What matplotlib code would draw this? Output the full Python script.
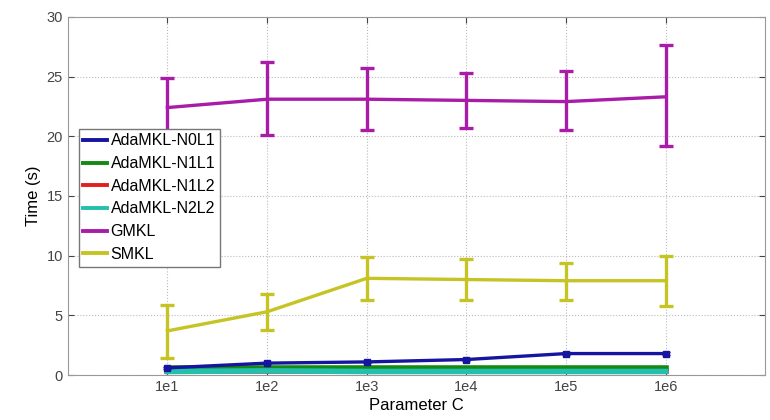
import matplotlib.pyplot as plt
from matplotlib.lines import Line2D

plt.rcParams["font.family"] = ["Liberation Sans", "DejaVu Sans"]

c_labels = ["1e1", "1e2", "1e3", "1e4", "1e5", "1e6"]
positions = [1, 2, 3, 4, 5, 6]

n0l1 = [0.6, 1.0, 1.1, 1.3, 1.8, 1.8]
n0l1_err = [0.1, 0.1, 0.1, 0.1, 0.15, 0.1]
n1l1 = [0.6, 0.6, 0.6, 0.6, 0.6, 0.6]
n1l2 = [0.3, 0.3, 0.3, 0.3, 0.3, 0.3]
n2l2 = [0.3, 0.35, 0.3, 0.3, 0.3, 0.3]
gmkl = [22.4, 23.1, 23.1, 23.0, 22.9, 23.3]
gmkl_lo = [19.9, 20.1, 20.5, 20.7, 20.5, 19.2]
gmkl_hi = [24.9, 26.2, 25.7, 25.3, 25.5, 27.6]
smkl = [3.7, 5.3, 8.1, 8.0, 7.9, 7.9]
smkl_lo = [1.4, 3.8, 6.3, 6.3, 6.3, 5.8]
smkl_hi = [5.9, 6.8, 9.9, 9.7, 9.4, 10.0]

names = ["AdaMKL-N0L1", "AdaMKL-N1L1", "AdaMKL-N1L2", "AdaMKL-N2L2", "GMKL", "SMKL"]
colors = ["#1515a0", "#138a13", "#e02020", "#25bfae", "#a81ca8", "#c6c424"]

fig = plt.figure(figsize=(7.7, 4.2), dpi=100)
ax = fig.add_axes([0.088, 0.107, 0.906, 0.853])

ax.errorbar(positions, n0l1, yerr=n0l1_err, color=colors[0], lw=2.4,
            marker="s", ms=4, capsize=3, elinewidth=2, zorder=6)
ax.plot(positions, n1l1, color=colors[1], lw=4, zorder=5)
ax.plot(positions, n1l2, color=colors[2], lw=4, zorder=4)
ax.plot(positions, n2l2, color=colors[3], lw=4, zorder=5)

g_err = [[m - lo for m, lo in zip(gmkl, gmkl_lo)], [hi - m for m, hi in zip(gmkl, gmkl_hi)]]
ax.errorbar(positions, gmkl, yerr=g_err, color=colors[4], lw=2.4,
            capsize=5, capthick=2.4, elinewidth=2.4, zorder=3)
s_err = [[m - lo for m, lo in zip(smkl, smkl_lo)], [hi - m for m, hi in zip(smkl, smkl_hi)]]
ax.errorbar(positions, smkl, yerr=s_err, color=colors[5], lw=2.4,
            capsize=5, capthick=2.4, elinewidth=2.4, zorder=3)

ax.set_xlim(0, 7)
ax.set_ylim(0, 30)
ax.set_xticks(positions)
ax.set_xticklabels(c_labels)
ax.set_yticks([0, 5, 10, 15, 20, 25, 30])
ax.tick_params(direction="in", top=True, right=True, labelsize=10.5, colors="#444444", length=4)
ax.grid(True, linestyle=":", color="#bbbbbb", lw=0.8)
for s in ax.spines.values():
    s.set_color("#999999")

ax.set_xlabel("Parameter C", fontsize=12, labelpad=3)
ax.set_ylabel("Time (s)", fontsize=12, labelpad=4)

handles = [Line2D([], [], color=c, lw=2.8) for c in colors]
leg = ax.legend(handles, names, loc="upper left", bbox_to_anchor=(0.004, 0.71), fontsize=11.5,
                handlelength=1.5, handletextpad=0.2, borderpad=0.3,
                labelspacing=0.48, fancybox=False, framealpha=1)
leg.get_frame().set_edgecolor("#777777")

fig.savefig("out.png", dpi=100)
